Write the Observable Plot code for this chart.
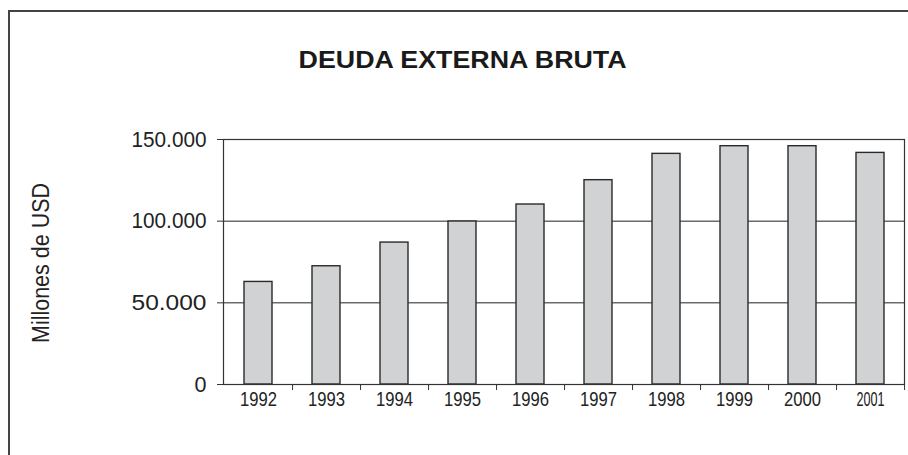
<!DOCTYPE html>
<html>
<head>
<meta charset="utf-8">
<script src="https://cdn.jsdelivr.net/npm/d3@7"></script>
<script src="https://cdn.jsdelivr.net/npm/@observablehq/plot@0.6"></script>
<style>
  html, body { margin: 0; padding: 0; background: #fff; }
  #wrap { position: relative; width: 908px; height: 455px; overflow: hidden; background: #fff; }
  #frame { position: absolute; left: 8px; top: 10px; width: 1200px; height: 1200px;
           border-left: 2px solid #444; border-top: 2px solid #444; pointer-events: none; z-index: 2; }
  #title { position: relative; height: 100px; width: 908px; }
  #title span { position: absolute; left: 0; right: 0; top: 49px; padding-left: 17px; text-align: center;
                font-family: "Liberation Sans", Arial, sans-serif; font-weight: bold; font-size: 23px;
                line-height: 23px; color: #1a1a1a; transform: scaleX(1.165); transform-origin: 462px 0; }
  #plot svg { display: block; }
</style>
</head>
<body>
<div id="wrap">
  <div id="frame"></div>
  <div id="title"><span>DEUDA EXTERNA BRUTA</span></div>
  <div id="plot"></div>
</div>
<script>
const years = ["1992", "1993", "1994", "1995", "1996", "1997", "1998", "1999", "2000", "2001"];
const deuda = [62800, 72400, 86900, 99800, 110200, 125100, 141200, 145900, 145900, 141800];
const yTicks = [0, 50000, 100000, 150000];
const gridValues = [50000, 100000];
const yTitle = "Millones de USD";

const data = years.map((y, i) => ({year: y, value: deuda[i]}));
const fmt = d => d3.format(",")(d).replace(/,/g, ".");

const W = 908, H = 355, mL = 223, mR = 4, mT = 39, mB = 71;
const step = (W - mL - mR) / years.length;
const sans = "'Liberation Sans', Arial, sans-serif";

const chart = Plot.plot({
  width: W, height: H,
  marginLeft: mL, marginRight: mR, marginTop: mT, marginBottom: mB,
  style: {background: "transparent", color: "#222", fontFamily: sans},
  x: {domain: years, paddingInner: 0.59, paddingOuter: 0.295, axis: null, label: null},
  y: {domain: [0, 150000], axis: null, label: null},
  marks: [
    Plot.ruleY(gridValues, {stroke: "#222", strokeWidth: 1}),
    Plot.barY(data, {x: "year", y: "value", fill: "#d1d2d4", stroke: "#2a2a2a", strokeWidth: 1.4}),
    Plot.frame({stroke: "#333", strokeWidth: 1.2}),
    Plot.axisY({ticks: yTicks, tickFormat: fmt, tickSize: 6, tickPadding: 11, label: null,
                fontSize: 22, fontFamily: sans, fill: "#222", stroke: "#333"}),
    Plot.axisX({tickSize: 6, dx: step / 2, text: null, label: null, stroke: "#333"}),
    Plot.axisX({tickSize: 0, tickPadding: 7, label: null, fontSize: 21, fontFamily: sans, fill: "#222"}),
    Plot.text([yTitle], {frameAnchor: "left", textAnchor: "middle", rotate: -90, dx: -182, dy: 1,
                         fontSize: 23, fontFamily: sans, fill: "#222"})
  ]
});
document.getElementById("plot").appendChild(chart);

// narrow the type as in the reference (condensed glyphs)
const svg = d3.select(chart);
svg.selectAll('g[aria-label="x-axis tick label"] text').each(function(d, i, nodes) {
  const last = i === nodes.length - 1;
  d3.select(this).attr("textLength", last ? 28 : 37).attr("lengthAdjust", "spacingAndGlyphs");
});
svg.selectAll('g[aria-label="y-axis tick label"] text').each(function() {
  const n = this.textContent.length;
  d3.select(this).attr("textLength", n > 1 ? 75 : 12).attr("lengthAdjust", "spacingAndGlyphs");
});
svg.selectAll('g[aria-label="text"] text').attr("textLength", 160).attr("lengthAdjust", "spacingAndGlyphs");
</script>
</body>
</html>
